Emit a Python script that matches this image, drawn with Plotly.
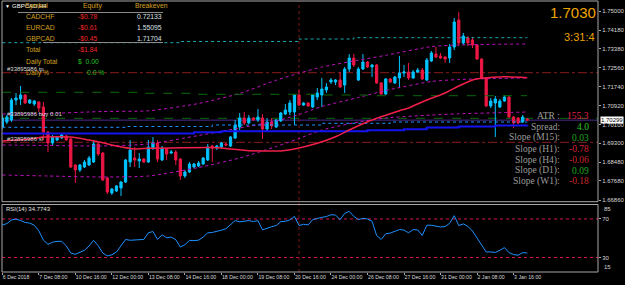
import plotly.graph_objects as go

# ---------------- data ----------------
bar_index = list(range(116))
tick_bars = [0, 8, 16, 24, 32, 40, 48, 56, 64, 72, 80, 88, 96, 104, 112]
tick_labels = ["6 Dec 2018", "7 Dec 08:00", "10 Dec 16:00", "12 Dec 00:00", "13 Dec 08:00",
               "14 Dec 16:00", "18 Dec 00:00", "19 Dec 08:00", "20 Dec 16:00", "24 Dec 00:00",
               "26 Dec 08:00", "27 Dec 16:00", "31 Dec 00:00", "2 Jan 08:00", "3 Jan 16:00"]

opens = [1.70004, 1.70220, 1.70306, 1.71167, 1.71210, 1.71382, 1.71038, 1.70995, 1.71081, 1.70866,
         1.69789, 1.69315, 1.69444, 1.69530, 1.69617, 1.69487, 1.68368, 1.68152, 1.68281, 1.68368,
         1.68497, 1.69272, 1.68884, 1.67808, 1.67162, 1.67248, 1.67377, 1.67635, 1.68497, 1.68669,
         1.68540, 1.68626, 1.68497, 1.69100, 1.69315, 1.68583, 1.69057, 1.68884, 1.68928, 1.68626,
         1.67894, 1.68066, 1.68281, 1.68325, 1.68411, 1.68583, 1.69186, 1.69100, 1.69143, 1.69272,
         1.69186, 1.69530, 1.70004, 1.70392, 1.70177, 1.70392, 1.70306, 1.70392, 1.69918, 1.70220,
         1.70004, 1.70263, 1.70564, 1.70650, 1.70650, 1.71382, 1.70952, 1.71038, 1.70866, 1.71296,
         1.71382, 1.71598, 1.71942, 1.71942, 1.72028, 1.71813, 1.72502, 1.72976, 1.72028, 1.72502,
         1.72804, 1.72588, 1.72674, 1.71899, 1.71426, 1.72072, 1.71899, 1.72115, 1.72330, 1.72373,
         1.72115, 1.72373, 1.72459, 1.72028, 1.72847, 1.73148, 1.73062, 1.73019, 1.72976, 1.73450,
         1.74613, 1.73622, 1.73837, 1.73751, 1.73536, 1.72933, 1.72115, 1.70909, 1.71038, 1.70866,
         1.71124, 1.71296, 1.70435, 1.70392, 1.70220, 1.70349]
highs = [1.70521, 1.70521, 1.71253, 1.71469, 1.71770, 1.71426, 1.71210, 1.71167, 1.71124, 1.71081,
         1.69832, 1.69660, 1.69617, 1.69746, 1.69660, 1.69530, 1.68411, 1.68411, 1.68583, 1.68755,
         1.69444, 1.69315, 1.68928, 1.67851, 1.67377, 1.67506, 1.67678, 1.68626, 1.69444, 1.69143,
         1.68884, 1.68669, 1.69444, 1.69574, 1.69444, 1.69186, 1.69100, 1.69014, 1.69014, 1.68669,
         1.68152, 1.68497, 1.68454, 1.68540, 1.68712, 1.69272, 1.69229, 1.69229, 1.69358, 1.69315,
         1.69617, 1.70306, 1.70607, 1.70650, 1.70521, 1.70435, 1.70779, 1.70564, 1.70392, 1.70392,
         1.70349, 1.70650, 1.70995, 1.71167, 1.71426, 1.71598, 1.71081, 1.71081, 1.71426, 1.71684,
         1.72115, 1.71899, 1.72115, 1.72072, 1.72373, 1.72588, 1.73148, 1.73148, 1.72588, 1.73148,
         1.72847, 1.72718, 1.72718, 1.71942, 1.72115, 1.72115, 1.72201, 1.73062, 1.72674, 1.72761,
         1.72459, 1.72545, 1.72545, 1.72976, 1.73277, 1.73450, 1.73191, 1.73062, 1.73579, 1.74699,
         1.74957, 1.74053, 1.73924, 1.73880, 1.73579, 1.72976, 1.72158, 1.71253, 1.71339, 1.71210,
         1.71382, 1.71339, 1.70478, 1.70435, 1.70521, 1.70392]
lows = [1.69918, 1.70133, 1.70220, 1.70952, 1.70952, 1.70995, 1.70995, 1.70909, 1.70650, 1.69444,
        1.68928, 1.69229, 1.69401, 1.69487, 1.69401, 1.68238, 1.67592, 1.68066, 1.68238, 1.68325,
        1.68454, 1.68755, 1.67678, 1.67119, 1.67076, 1.67205, 1.67033, 1.67592, 1.68281, 1.68281,
        1.68238, 1.68454, 1.68454, 1.69014, 1.68497, 1.68540, 1.68583, 1.68841, 1.68368, 1.67722,
        1.67808, 1.68023, 1.68238, 1.68281, 1.68368, 1.68540, 1.68497, 1.69014, 1.69100, 1.69186,
        1.69143, 1.69487, 1.69875, 1.70090, 1.70133, 1.70263, 1.70220, 1.69487, 1.69789, 1.69918,
        1.69961, 1.70220, 1.70521, 1.70521, 1.70090, 1.70909, 1.70909, 1.70866, 1.70823, 1.71167,
        1.70866, 1.71469, 1.71856, 1.71813, 1.71684, 1.71469, 1.72373, 1.72588, 1.71985, 1.72459,
        1.72545, 1.72158, 1.71856, 1.71382, 1.71382, 1.71899, 1.71856, 1.71684, 1.72158, 1.72028,
        1.72072, 1.72330, 1.72028, 1.71985, 1.72804, 1.72976, 1.72933, 1.72761, 1.72761, 1.73321,
        1.73493, 1.73536, 1.73493, 1.73407, 1.72890, 1.72072, 1.70866, 1.70823, 1.69574, 1.70823,
        1.71081, 1.70392, 1.69961, 1.70133, 1.70177, 1.70263]
closes = [1.70392, 1.70435, 1.71167, 1.71253, 1.71382, 1.71038, 1.71167, 1.71124, 1.70823, 1.69789,
          1.69315, 1.69574, 1.69574, 1.69660, 1.69444, 1.68281, 1.68152, 1.68368, 1.68497, 1.68669,
          1.69272, 1.68841, 1.67722, 1.67205, 1.67334, 1.67463, 1.67635, 1.68583, 1.69014, 1.68583,
          1.68626, 1.68497, 1.69143, 1.69315, 1.68626, 1.69100, 1.68841, 1.68928, 1.68583, 1.67894,
          1.68066, 1.68411, 1.68411, 1.68454, 1.68669, 1.69143, 1.69100, 1.69186, 1.69315, 1.69229,
          1.69574, 1.70090, 1.70392, 1.70177, 1.70392, 1.70306, 1.70435, 1.69918, 1.70220, 1.70047,
          1.70306, 1.70607, 1.70736, 1.71038, 1.71382, 1.70952, 1.71038, 1.70909, 1.71382, 1.71469,
          1.71641, 1.71727, 1.72028, 1.72028, 1.71727, 1.72502, 1.72976, 1.72674, 1.72502, 1.72804,
          1.72588, 1.72674, 1.71899, 1.71426, 1.72072, 1.71942, 1.72158, 1.72330, 1.72373, 1.72115,
          1.72373, 1.72459, 1.72072, 1.72890, 1.73191, 1.73019, 1.72976, 1.72933, 1.73450, 1.74527,
          1.73622, 1.73924, 1.73622, 1.73536, 1.72933, 1.72115, 1.70909, 1.71124, 1.71210, 1.71124,
          1.71296, 1.70435, 1.70177, 1.70177, 1.70435, 1.70299]

rsi_values = [63.7, 65.2, 68.9, 69.9, 68.4, 66.4, 65.7, 63.6, 57.7, 48.1,
              43.7, 45.9, 46.8, 46.8, 42.2, 34.6, 33.4, 35.5, 37.5, 42.0,
              47.8, 42.2, 34.7, 31.7, 32.8, 35.7, 41.6, 48.7, 47.9, 48.1,
              48.5, 48.8, 55.6, 57.0, 48.8, 53.6, 50.5, 51.2, 48.5, 40.9,
              43.3, 47.8, 47.5, 48.0, 51.2, 55.6, 56.0, 57.0, 58.4, 59.9,
              64.0, 68.3, 67.0, 67.5, 68.3, 67.3, 68.3, 58.7, 60.5, 62.0,
              63.2, 67.2, 67.6, 69.0, 72.7, 63.2, 64.5, 63.8, 69.3, 70.7,
              71.7, 72.5, 74.4, 74.0, 69.3, 75.8, 77.9, 72.7, 69.3, 70.7,
              70.0, 67.6, 52.9, 48.8, 54.6, 55.4, 57.5, 59.0, 58.5, 55.6,
              59.0, 58.7, 52.9, 63.5, 63.5, 62.5, 61.7, 62.1, 65.5, 73.4,
              63.2, 64.9, 62.3, 57.5, 50.2, 42.5, 35.8, 35.8, 35.3, 37.5,
              40.3, 35.1, 33.1, 32.4, 35.1, 34.77]
rsi_levels = [70, 30]

ema_bars = [0, 6, 9, 15, 19, 21, 25, 29, 32, 47, 50, 54, 61, 64, 69, 73, 76, 80, 83, 87,
            89, 93, 97, 100, 103, 105, 110, 115]
ema_vals = [1.69401, 1.69487, 1.69573, 1.69573, 1.69444, 1.69371, 1.69186, 1.69057, 1.69087, 1.69113,
            1.69057, 1.68984, 1.68971, 1.69057, 1.69302, 1.69586, 1.69875, 1.70233, 1.70448, 1.70706,
            1.70822, 1.71167, 1.71469, 1.71770, 1.72029, 1.72102, 1.72171, 1.72128]

band_bars = [0, 10, 22, 32, 43, 52, 60, 65, 70, 78, 84, 94, 100, 108, 115]
band_upper = [1.70564, 1.70586, 1.70672, 1.70702, 1.71016, 1.71451, 1.72020, 1.72321, 1.72588, 1.72881,
              1.73092, 1.73467, 1.73536, 1.73566, 1.73579]
band_mid = [1.69229, 1.69208, 1.69186, 1.69272, 1.69638, 1.69961, 1.70262, 1.70542, 1.70887, 1.71275,
            1.71576, 1.71964, 1.72050, 1.72093, 1.72114]
band_lower = [1.67937, 1.67894, 1.67851, 1.67894, 1.68260, 1.68669, 1.69164, 1.69509, 1.69875, 1.70220,
              1.70392, 1.70521, 1.70573, 1.70616, 1.70650]

ma_bars = [0, 42, 48, 80, 88, 93, 100, 108, 115]
ma_vals = [1.69724, 1.69776, 1.69819, 1.69862, 1.69905, 1.69983, 1.70026, 1.70069, 1.70090]

lb_bars = [0, 27, 46, 70, 85, 115]
lb_vals = [1.69991, 1.70026, 1.70090, 1.70164, 1.70220, 1.70220]

dg_bars = [0, 31, 42, 70, 80, 115]
dg_vals = [1.71499, 1.71456, 1.71413, 1.71383, 1.71352, 1.71352]

cy_bars = [0, 39, 65, 77, 115]
cy_vals = [1.73635, 1.73687, 1.73794, 1.73850, 1.73850]

tp_level = 1.72343
sl_level = 1.69345
open_level = 1.70379
bid_price = 1.70299
marker_bar = 65

price_ticks = [1.75000, 1.74180, 1.73380, 1.72560, 1.71740, 1.70920, 1.70100,
               1.69300, 1.68480, 1.67680, 1.66860]

table_symbols = ["CADCHF", "EURCAD", "GBPCAD"]
table_equity = ["-$0.78", "-$0.61", "-$0.45"]
table_breakeven = ["0.72133", "1.55095", "1.71704"]
total_equity = "-$1.84"

info_labels = ["ATR :", "Spread:", "Slope (M15):", "Slope (H1):", "Slope (H4):", "Slope (D1):", "Slope (W1):"]
info_values = ["155.3", "4.0", "0.03", "-0.78", "-0.06", "0.09", "-0.18"]
info_colors = ["#e8204a", "#2ec82e", "#1fa81f", "#d8203a", "#c82828", "#1fa81f", "#c82828"]

# ---------------- layout helpers ----------------
W, H = 625, 285
ML, MR, MT, MB = 2, 27, 1, 13
PW = W - ML - MR
PH = H - MT - MB


def fx(px):
    return (px - ML) / PW


def fy(py):
    return (H - MB - py) / PH


SANS = "Liberation Sans, Arial, sans-serif"
SERIF = "Liberation Serif, Times New Roman, serif"
BULL = "#00c4ff"
BEAR = "#ec1744"
AXC = "#d8d8d8"
FRAME = "#a8a8a8"
GOLD = "#d4a020"

fig = go.Figure()

# bands (magenta dotted)
for vals in (band_upper, band_mid, band_lower):
    fig.add_trace(go.Scatter(x=band_bars, y=vals, mode="lines", line=dict(color="#c010c0", width=1, dash="dot", shape="spline", smoothing=0.6),
                             xaxis="x", yaxis="y", hoverinfo="skip"))

# step lines
fig.add_trace(go.Scatter(x=cy_bars, y=cy_vals, mode="lines", line=dict(color="#18a8b0", width=1, dash="dot", shape="hv"), xaxis="x", yaxis="y"))
fig.add_trace(go.Scatter(x=dg_bars, y=dg_vals, mode="lines", line=dict(color="#0a6a0a", width=1, dash="dash", shape="hv"), xaxis="x", yaxis="y"))
fig.add_trace(go.Scatter(x=lb_bars, y=lb_vals, mode="lines", line=dict(color="#1e90ff", width=1, dash="dot", shape="hv"), xaxis="x", yaxis="y"))
fig.add_trace(go.Scatter(x=ma_bars, y=ma_vals, mode="lines", line=dict(color="#1414f0", width=2, shape="hv"), xaxis="x", yaxis="y"))

# full-width levels
level_shapes = [
    (tp_level, "#8b1c1c", "dashdot", 1),
    (sl_level, "#8b1c1c", "dashdot", 1),
    (open_level, "#0a6a0a", "dash", 1),
    (bid_price, "#4a2a8a", "solid", 1),
]
shapes = []
for lvl, col, dash, w in level_shapes:
    shapes.append(dict(type="line", xref="x domain", yref="y", x0=0, x1=1, y0=lvl, y1=lvl,
                       line=dict(color=col, width=w, dash=dash), layer="below"))

# EMA red
fig.add_trace(go.Scatter(x=ema_bars, y=ema_vals, mode="lines", line=dict(color="#f0204a", width=1.5, shape="spline", smoothing=0.5), xaxis="x", yaxis="y"))

# candles
fig.add_trace(go.Candlestick(x=bar_index, open=opens, high=highs, low=lows, close=closes,
                             increasing=dict(line=dict(color=BULL, width=1), fillcolor=BULL),
                             decreasing=dict(line=dict(color=BEAR, width=1), fillcolor=BEAR),
                             whiskerwidth=0, xaxis="x", yaxis="y", hoverinfo="skip"))

# RSI
fig.add_trace(go.Scatter(x=bar_index, y=rsi_values, mode="lines", line=dict(color="#1e90ff", width=1), xaxis="x", yaxis="y2"))
for lvl in rsi_levels:
    shapes.append(dict(type="line", xref="x domain", yref="y2", x0=0, x1=1, y0=lvl, y1=lvl,
                       line=dict(color="#dc1450", width=1, dash="dot"), layer="below"))

# vertical marker line
shapes.append(dict(type="line", xref="x", yref="paper", x0=marker_bar, x1=marker_bar, y0=0, y1=1,
                   line=dict(color="#7a1818", width=1, dash="dot"), layer="below"))

# frames
shapes.append(dict(type="rect", xref="x domain", yref="y domain", x0=0, x1=1, y0=0, y1=1, line=dict(color=FRAME, width=1)))
shapes.append(dict(type="rect", xref="x domain", yref="y2 domain", x0=0, x1=1, y0=0, y1=1, line=dict(color=FRAME, width=1)))

# table separators
shapes.append(dict(type="line", xref="paper", yref="paper", x0=fx(18), x1=fx(163), y0=fy(12.5), y1=fy(12.5), line=dict(color="#8a8a8a", width=1)))
shapes.append(dict(type="line", xref="paper", yref="paper", x0=fx(43), x1=fx(163), y0=fy(42.5), y1=fy(42.5), line=dict(color="#8a8a8a", width=1)))

annotations = []


def ann(text, x, y, color, size, anchor="left", family=SANS):
    annotations.append(dict(text=text, x=fx(x), y=fy(y), xref="paper", yref="paper", xanchor=anchor, yanchor="middle",
                            showarrow=False, font=dict(color=color, size=size, family=family)))


# title + table
ann("▼", 3, 6, "#ffffff", 5)
ann("GBPCAD,H4", 10, 6, "#ffffff", 6)
ann("Symbol", 23, 6, GOLD, 6.8)
ann("Equity", 81, 6, GOLD, 6.8)
ann("Breakeven", 133, 6, GOLD, 6.8)
row_y = [17, 27.5, 38]
for sym, eq, be, yy in zip(table_symbols, table_equity, table_breakeven, row_y):
    ann(sym, 24, yy, GOLD, 6.8)
    ann(eq, 76, yy, "#f02828", 6.8)
    ann(be, 164, yy, "#dde3ea", 6.8, anchor="right")
ann("Total", 24, 49, GOLD, 6.8)
ann(total_equity, 76, 49, "#f02828", 6.8)
ann("Daily Total", 24, 62, GOLD, 6.8)
ann("$  0.00", 76, 62, "#22c022", 6.8)
ann("Daily %", 24, 73, GOLD, 6.8)
ann("0.0 %", 85, 73, "#22c022", 6.8)

# order labels
ann("#33895986 tp", 5, 69, "#d8d8d8", 6)
ann("#33895986 buy 0.01", 5, 114, "#d8d8d8", 6)
ann("#33895986 sl", 5, 139, "#d8d8d8", 6)

# right info
ann("1.7030", 598, 12, "#f0a400", 15, anchor="right")
ann("3:31:4", 597, 37, "#e8a000", 11, anchor="right")
info_y = [116, 126.7, 137.7, 149.3, 160, 171, 181]
for lab, val, col, yy in zip(info_labels, info_values, info_colors, info_y):
    ann(lab, 562, yy, "#9c9c9c", 9.5, anchor="right", family=SERIF)
    ann(val, 591, yy, col, 9.5, anchor="right", family=SERIF)

# RSI label + scale edges
ann("RSI(14) 34.7743", 4, 209, "#e0e0e0", 6)
annotations.append(dict(text="85", x=1, y=85, xref="paper", yref="y2", xanchor="left", yanchor="top", xshift=4,
                        showarrow=False, font=dict(color=AXC, size=6, family=SANS)))
annotations.append(dict(text="15", x=1, y=15, xref="paper", yref="y2", xanchor="left", yanchor="bottom", xshift=4,
                        showarrow=False, font=dict(color=AXC, size=6, family=SANS)))

# price box
annotations.append(dict(text="1.70299", x=1, y=bid_price, xref="paper", yref="y", xanchor="left", yanchor="middle",
                        xshift=2, showarrow=False, bgcolor="#ffffff", borderpad=0,
                        font=dict(color="#000000", size=6, family=SANS)))

fig.update_layout(
    template="none",
    width=W, height=H,
    margin=dict(l=ML, r=MR, t=MT, b=MB, pad=0),
    paper_bgcolor="#000000", plot_bgcolor="#000000",
    showlegend=False,
    shapes=shapes,
    annotations=annotations,
    xaxis=dict(range=[-0.07, 130.5], anchor="y2", tickmode="array", tickvals=tick_bars, ticktext=tick_labels,
               ticklabelposition="outside right", tickangle=0, tickfont=dict(size=5.2, color=AXC, family=SANS),
               ticks="outside", ticklen=2, tickcolor=FRAME, showgrid=False, zeroline=False, showline=False,
               rangeslider=dict(visible=False), automargin=False, fixedrange=True),
    yaxis=dict(domain=[fy(201.7), 1], range=[1.66787, 1.75431], side="right", anchor="x",
               tickmode="array", tickvals=price_ticks, ticktext=[f"{v:.5f}" for v in price_ticks],
               tickfont=dict(size=6, color=AXC, family=SANS), ticks="outside", ticklen=2, tickcolor=FRAME,
               showgrid=False, zeroline=False, showline=False, automargin=False),
    yaxis2=dict(domain=[0, fy(204.5)], range=[15, 85], side="right", anchor="x",
                tickmode="array", tickvals=rsi_levels, ticktext=[str(v) for v in rsi_levels],
                tickfont=dict(size=6, color=AXC, family=SANS), ticks="outside", ticklen=2, tickcolor=FRAME,
                showgrid=False, zeroline=False, showline=False, automargin=False),
)

fig.write_html("out.html")
